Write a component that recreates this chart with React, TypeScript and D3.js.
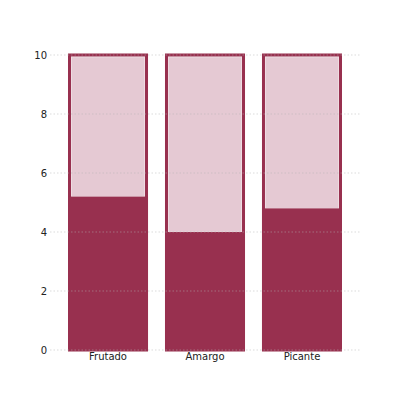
import React from "react";
import * as d3 from "d3";

const categories = ["Frutado", "Amargo", "Picante"];
const values = [5.2, 4.0, 4.8];
const maxValue = 10;
const yTicks = [0, 2, 4, 6, 8, 10];

const W = 400;
const H = 400;
const DARK = "#98304f";
const PINK = "#e5c9d3";

export default function App() {
  const x = d3
    .scaleBand<string>()
    .domain(categories)
    .range([68, 342])
    .paddingInner(0.175)
    .paddingOuter(0);
  const y = d3.scaleLinear().domain([0, maxValue]).range([350, 55]);
  const bw = x.bandwidth();

  return (
    <svg
      width={W}
      height={H}
      style={{ position: "absolute", left: 0, top: 0, background: "#fff" }}
      fontFamily="DejaVu Sans, sans-serif"
    >
      {categories.map((c, i) => {
        const x0 = x(c)!;
        return (
          <g key={c}>
            <rect
              x={x0 + 1.5}
              y={y(maxValue)}
              width={bw - 3}
              height={y(0) - y(maxValue)}
              fill={PINK}
              stroke={DARK}
              strokeWidth={3}
            />
            <rect
              x={x0 + 3.5}
              y={y(maxValue) + 2}
              width={bw - 7}
              height={y(values[i]) - y(maxValue) - 2}
              fill="none"
              stroke="#fff"
              strokeOpacity={0.35}
              strokeWidth={1}
            />
            <rect
              x={x0}
              y={y(values[i])}
              width={bw}
              height={y(0) - y(values[i])}
              fill={DARK}
            />
          </g>
        );
      })}
      {yTicks.map((t) => (
        <g key={t}>
          <line
            x1={50}
            x2={360}
            y1={y(t)}
            y2={y(t)}
            stroke="#b0b0b0"
            strokeOpacity={0.6}
            strokeWidth={0.8}
            strokeDasharray="1.5,2"
          />
          <text
            x={47}
            y={y(t)}
            dy="0.35em"
            textAnchor="end"
            fontSize={10}
            fill="#222"
          >
            {t}
          </text>
        </g>
      ))}
      {categories.map((c) => (
        <text
          key={c}
          x={x(c)! + bw / 2}
          y={360}
          textAnchor="middle"
          fontSize={10}
          fill="#222"
        >
          {c}
        </text>
      ))}
    </svg>
  );
}
